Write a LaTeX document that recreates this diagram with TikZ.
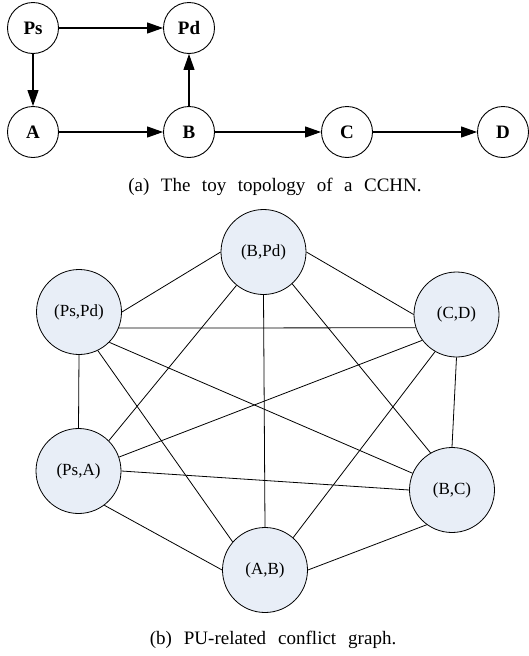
\documentclass[tikz,border=0pt]{standalone}
\usepackage{fontspec}
\setmainfont{Liberation Serif}
\usetikzlibrary{arrows.meta}
\definecolor{pufill}{RGB}{232,238,247}
\begin{document}
\begin{tikzpicture}[x=1pt,y=-1pt,
  topo/.style={circle,draw,line width=0.9pt,minimum size=51pt,inner sep=0pt,
    font=\fontsize{19}{19}\selectfont\bfseries},
  flow/.style={-{Triangle[length=16pt,width=11pt]},line width=1.1pt},
  pu/.style={circle,draw,line width=0.8pt,fill=pufill,minimum size=85pt,inner sep=0pt,
    font=\fontsize{17}{17}\selectfont},
  conf/.style={line width=0.8pt},
  capt/.style={anchor=base,inner sep=0pt,font=\fontsize{19}{19}\selectfont}]
\useasboundingbox (0,0) rectangle (528,656);

% (a) toy topology
\node[topo] (Ps) at (33,28) {Ps};
\node[topo] (Pd) at (189,28) {Pd};
\node[topo] (A) at (33,132) {A};
\node[topo] (B) at (189,132) {B};
\node[topo] (C) at (347,132) {C};
\node[topo] (D) at (503,132) {D};
\draw[flow] (Ps) -- (Pd);
\draw[flow] (Ps) -- (A);
\draw[flow] (A) -- (B);
\draw[flow] (B) -- (Pd);
\draw[flow] (B) -- (C);
\draw[flow] (C) -- (D);
\node[capt] (capa) at (275,191) {\spaceskip=11.5pt\relax (a) The toy topology of a CCHN.};

% (b) conflict graph
\node[pu] (BPd) at (263.5,252) {(B,Pd)};
\node[pu] (PsPd) at (79,312) {(Ps,Pd)};
\node[pu] (CD) at (456.5,314.5) {(C,D)};
\node[pu] (PsA) at (78.5,471) {(Ps,A)};
\node[pu] (BC) at (452,490) {(B,C)};
\node[pu] (AB) at (265,570) {(A,B)};

\draw[conf] (PsPd.east) -- (BPd.west);
\draw[conf] (BPd.east) -- (CD.west);
\draw[conf] (PsPd.-22) -- (CD.198);
\draw[conf] (PsPd.south) -- (PsA.north);
\draw[conf] (PsPd.-64) -- (AB.139);
\draw[conf] (PsPd.-45) -- (BC.157);
\draw[conf] (BPd.231) -- (PsA.45);
\draw[conf] (BPd.south) -- (AB.north);
\draw[conf] (BPd.-48) -- (BC.120);
\draw[conf] (CD.217) -- (PsA.19);
\draw[conf] (CD.240) -- (AB.49);
\draw[conf] (CD.south) -- (BC.north);
\draw[conf] (PsA.east) -- (BC.west);
\draw[conf] (PsA.-53) -- (AB.west);
\draw[conf] (AB.east) -- (BC.234);
\node[capt] (capb) at (273,644) {\spaceskip=12pt\relax (b) PU-related conflict graph.};
\end{tikzpicture}
\end{document}
